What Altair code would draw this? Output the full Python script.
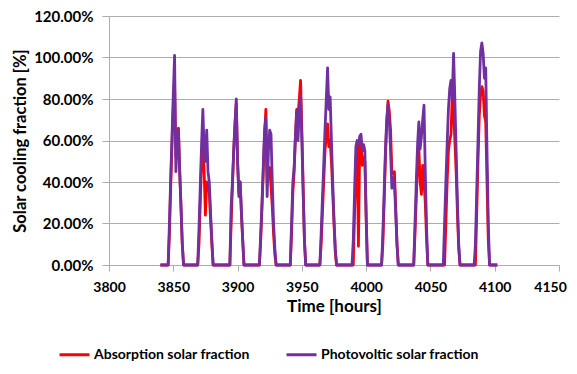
import altair as alt
import pandas as pd

# Absorption solar fraction (hour, percent)
abs_hours = [3840, 3846, 3847, 3848, 3849, 3850, 3851, 3852, 3853, 3854, 3855, 3856, 3857, 3858,
             3869, 3870, 3871, 3872, 3873, 3874, 3875, 3876, 3877, 3878, 3879, 3880, 3881,
             3894, 3895, 3896, 3897, 3898, 3899, 3900, 3901, 3902, 3903, 3904, 3905,
             3917, 3918, 3919, 3920, 3921, 3922, 3923, 3924, 3925, 3926, 3927, 3928, 3929, 3930,
             3941, 3942, 3943, 3944, 3945, 3946, 3947, 3948, 3949, 3950, 3951, 3952, 3953,
             3964, 3965, 3966, 3967, 3968, 3969, 3970, 3971, 3972, 3973, 3974, 3975, 3976, 3977,
             3990, 3991, 3992, 3993, 3994, 3995, 3996, 3997, 3998, 3999, 4000, 4001,
             4012, 4013, 4014, 4015, 4016, 4017, 4018, 4019, 4020, 4021, 4022, 4023, 4024, 4025,
             4037, 4038, 4039, 4040, 4041, 4042, 4043, 4044, 4045, 4046, 4047, 4048,
             4061, 4062, 4063, 4064, 4065, 4066, 4067, 4068, 4069, 4070, 4071, 4072, 4073,
             4085, 4086, 4087, 4088, 4089, 4090, 4091, 4092, 4093, 4094, 4095, 4096, 4102]
abs_values = [0, 0, 15, 38, 58, 76, 88, 52, 62, 66, 45, 28, 10, 0,
              0, 10, 30, 50, 62, 45, 24, 40, 38, 35, 22, 10, 0,
              0, 20, 38, 55, 68, 78, 50, 35, 40, 25, 12, 0,
              0, 12, 28, 45, 62, 75, 40, 46, 47, 38, 28, 15, 5, 0,
              0, 15, 35, 45, 62, 75, 72, 80, 89, 65, 38, 12, 0,
              0, 10, 25, 40, 55, 62, 68, 57, 60, 50, 35, 20, 6, 0,
              0, 25, 50, 58, 9, 58, 60, 48, 52, 50, 22, 0,
              0, 10, 30, 52, 68, 79, 74, 65, 45, 44, 45, 28, 10, 0,
              0, 15, 32, 50, 56, 40, 34, 48, 40, 30, 12, 0,
              0, 20, 40, 55, 60, 63, 82, 75, 60, 45, 25, 8, 0,
              0, 25, 50, 72, 82, 86, 84, 72, 69, 40, 12, 0, 0]

# Photovoltic solar fraction (hour, percent)
pv_hours = [3840, 3846, 3847, 3848, 3849, 3850, 3851, 3852, 3853, 3854, 3855, 3856, 3857, 3858,
            3869, 3870, 3871, 3872, 3873, 3874, 3875, 3876, 3877, 3878, 3879, 3880, 3881,
            3894, 3895, 3896, 3897, 3898, 3899, 3900, 3901, 3902, 3903, 3904, 3905,
            3917, 3918, 3919, 3920, 3921, 3922, 3923, 3924, 3925, 3926, 3927, 3928, 3929, 3930,
            3941, 3942, 3943, 3944, 3945, 3946, 3947, 3948, 3949, 3950, 3951, 3952, 3953,
            3964, 3965, 3966, 3967, 3968, 3969, 3970, 3971, 3972, 3973, 3974, 3975, 3976, 3977,
            3989, 3990, 3991, 3992, 3993, 3994, 3995, 3996, 3997, 3998, 3999, 4000, 4001,
            4012, 4013, 4014, 4015, 4016, 4017, 4018, 4019, 4020, 4021, 4022, 4023, 4024, 4025,
            4037, 4038, 4039, 4040, 4041, 4042, 4043, 4044, 4045, 4046, 4047, 4048,
            4060, 4061, 4062, 4063, 4064, 4065, 4066, 4067, 4068, 4069, 4070, 4071, 4072, 4073,
            4084, 4085, 4086, 4087, 4088, 4089, 4090, 4091, 4092, 4093, 4094, 4095, 4096, 4102]
pv_values = [0, 0, 20, 42, 62, 82, 101, 45, 58, 65, 45, 28, 10, 0,
             0, 18, 38, 58, 75, 55, 50, 65, 45, 40, 25, 12, 0,
             0, 28, 40, 55, 68, 80, 50, 33, 40, 25, 12, 0,
             0, 15, 30, 48, 65, 71, 33, 55, 65, 63, 40, 20, 8, 0,
             0, 20, 40, 47, 62, 74, 60, 75, 82, 60, 35, 12, 0,
             0, 15, 32, 48, 65, 80, 95, 75, 81, 60, 40, 22, 8, 0,
             0, 12, 35, 57, 60, 58, 62, 63, 55, 58, 55, 25, 0,
             0, 15, 35, 55, 70, 77, 70, 55, 37, 42, 40, 25, 10, 0,
             0, 20, 40, 58, 69, 56, 62, 70, 77, 45, 18, 0,
             0, 20, 40, 58, 75, 85, 89, 80, 102, 80, 55, 30, 10, 0,
             0, 10, 35, 60, 85, 103, 107, 102, 90, 95, 55, 20, 0, 0]

series_names = ["Absorption solar fraction", "Photovoltic solar fraction"]
series_colors = ["#FF0000", "#7030A0"]
x_ticks = [3800, 3850, 3900, 3950, 4000, 4050, 4100, 4150]
y_ticks = [0, 0.2, 0.4, 0.6, 0.8, 1.0, 1.2]

df = pd.concat([
    pd.DataFrame({"hour": abs_hours, "pct": abs_values, "series": series_names[0], "k": 0}),
    pd.DataFrame({"hour": pv_hours, "pct": pv_values, "series": series_names[1], "k": 1}),
])

FONT = "Lato"
GRID = "#ADADAD"

chart = alt.Chart(df).transform_calculate(
    frac="datum.pct / 100"
).mark_line(strokeWidth=2.8, strokeJoin="round").encode(
    x=alt.X("hour:Q",
            scale=alt.Scale(domain=[3800, 4150], nice=False, zero=False),
            axis=alt.Axis(values=x_ticks, format="d", grid=False, title="Time [hours]",
                          labelFlush=False,
                          labelOffset={"expr": "datum.value == 4150 ? -9 : 0"},
                          domainColor=GRID, tickColor=GRID, tickSize=6,
                          labelFont=FONT, labelFontSize=14, labelFontWeight="bold",
                          labelColor="black", labelPadding=9,
                          titleFont=FONT, titleFontSize=17, titleFontWeight="bold",
                          titleColor="black", titlePadding=4)),
    y=alt.Y("frac:Q",
            scale=alt.Scale(domain=[0, 1.2], nice=False),
            axis=alt.Axis(values=y_ticks, format=".2%", grid=True, gridColor=GRID,
                          title="Solar cooling fraction [%]", labelFlush=False,
                          domainColor=GRID, tickColor=GRID, tickSize=7,
                          labelFont=FONT, labelFontSize=15, labelFontWeight="bold",
                          labelColor="black", labelPadding=9,
                          titleFont=FONT, titleFontSize=16.5, titleFontWeight="bold",
                          titleColor="black", titlePadding=5)),
    color=alt.Color("series:N",
                    scale=alt.Scale(domain=series_names, range=series_colors),
                    legend=alt.Legend(title=None, orient="none", direction="horizontal",
                                      legendX=-51, legendY=322,
                                      symbolType="stroke", symbolSize=900,
                                      symbolStrokeWidth=3, labelOffset=3,
                                      columnPadding=30,
                                      labelFont=FONT, labelFontSize=14,
                                      labelFontWeight="bold", labelColor="black")),
    detail="k:N",
).properties(
    width=450, height=249,
    autosize=alt.AutoSizeParams(type="none"),
    padding={"left": 101, "top": 8, "right": 10, "bottom": 97},
).configure_view(stroke=None)

chart.save("out.html", embed_options={"renderer": "svg", "actions": False})
